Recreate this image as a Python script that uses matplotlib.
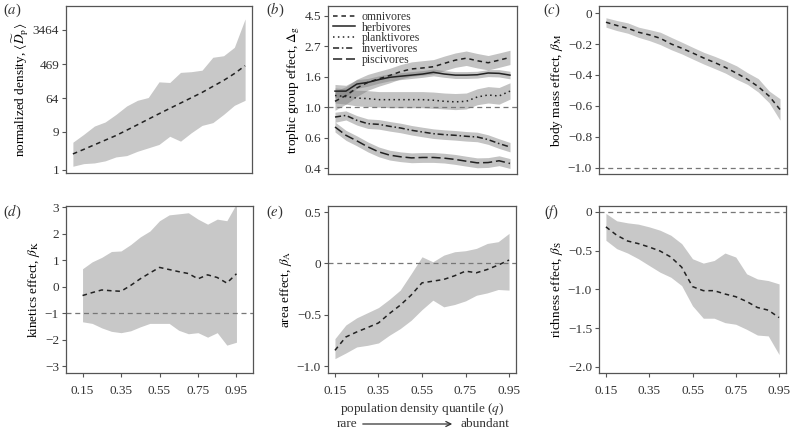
import matplotlib
matplotlib.use("Agg")
import matplotlib.pyplot as plt
import numpy as np

plt.rcParams['font.family'] = ['Liberation Serif', 'DejaVu Serif']
plt.rcParams['mathtext.fontset'] = 'stix'
plt.rcParams['font.size'] = 9.5
plt.rcParams['text.color'] = '#333333'
plt.rcParams['axes.edgecolor'] = '#555555'
plt.rcParams['xtick.color'] = '#555555'
plt.rcParams['ytick.color'] = '#555555'
plt.rcParams['xtick.labelcolor'] = '#333333'
plt.rcParams['ytick.labelcolor'] = '#333333'

# population density quantiles
q = [0.15, 0.20, 0.25, 0.30, 0.35, 0.40, 0.45, 0.50, 0.55,
     0.60, 0.65, 0.70, 0.75, 0.80, 0.85, 0.90, 0.95]

# (a) normalized density
dens_mean = [2.5, 3.25, 4.26, 5.58, 7.3, 9.97, 13.7, 18.9, 26, 35.5, 48.4, 66, 90, 128, 181, 270, 428]
dens_lo = [1.22, 1.42, 1.48, 1.67, 2.1, 2.27, 2.92, 3.56, 4.35, 7.0, 5.26, 8.6, 13.2, 15.5, 25, 42.5, 57]
dens_hi = [4.95, 7.8, 12.7, 16.1, 25, 41, 57, 67, 167, 161, 290, 302, 330, 700, 765, 1250, 6560]

# (b) trophic group effects
omni = [1.10, 1.21, 1.37, 1.50, 1.59, 1.68, 1.79, 1.87, 1.90, 1.94, 2.05, 2.16, 2.23, 2.14, 2.07, 2.16, 2.26]
omni_lo = [0.95, 1.05, 1.19, 1.32, 1.41, 1.49, 1.59, 1.66, 1.69, 1.72, 1.82, 1.92, 1.98, 1.90, 1.84, 1.92, 2.01]
omni_hi = [1.30, 1.40, 1.58, 1.71, 1.80, 1.89, 2.01, 2.10, 2.14, 2.18, 2.31, 2.43, 2.51, 2.41, 2.33, 2.43, 2.54]
herb = [1.30, 1.30, 1.46, 1.50, 1.57, 1.63, 1.66, 1.69, 1.72, 1.77, 1.72, 1.69, 1.69, 1.70, 1.75, 1.74, 1.69]
herb_lo = [1.17, 1.19, 1.36, 1.41, 1.48, 1.54, 1.57, 1.60, 1.63, 1.67, 1.63, 1.60, 1.60, 1.61, 1.65, 1.64, 1.59]
herb_hi = [1.45, 1.43, 1.57, 1.60, 1.67, 1.73, 1.76, 1.79, 1.82, 1.87, 1.82, 1.79, 1.79, 1.80, 1.85, 1.85, 1.80]
plank = [1.21, 1.19, 1.16, 1.15, 1.13, 1.13, 1.13, 1.13, 1.13, 1.12, 1.10, 1.09, 1.10, 1.18, 1.22, 1.20, 1.30]
plank_lo = [1.07, 1.05, 1.02, 1.01, 1.00, 0.99, 0.99, 0.99, 0.99, 0.98, 0.97, 0.96, 0.97, 1.04, 1.07, 1.05, 1.14]
plank_hi = [1.37, 1.35, 1.32, 1.31, 1.29, 1.29, 1.29, 1.29, 1.29, 1.28, 1.26, 1.25, 1.26, 1.35, 1.40, 1.38, 1.49]
invert = [0.85, 0.873, 0.805, 0.762, 0.754, 0.73, 0.71, 0.684, 0.665, 0.647, 0.637, 0.63, 0.62, 0.613, 0.587, 0.55, 0.52]
invert_lo = [0.78, 0.81, 0.745, 0.705, 0.697, 0.675, 0.657, 0.633, 0.615, 0.598, 0.589, 0.582, 0.573, 0.567, 0.543, 0.508, 0.48]
invert_hi = [0.92, 0.94, 0.870, 0.824, 0.815, 0.790, 0.768, 0.740, 0.719, 0.700, 0.689, 0.681, 0.670, 0.663, 0.635, 0.595, 0.56]
pisc = [0.722, 0.63, 0.575, 0.521, 0.48, 0.455, 0.443, 0.435, 0.438, 0.438, 0.433, 0.424, 0.412, 0.401, 0.403, 0.415, 0.397]
pisc_lo = [0.665, 0.58, 0.530, 0.480, 0.443, 0.420, 0.409, 0.402, 0.404, 0.404, 0.400, 0.391, 0.380, 0.370, 0.372, 0.383, 0.366]
pisc_hi = [0.783, 0.683, 0.624, 0.565, 0.520, 0.493, 0.480, 0.472, 0.475, 0.475, 0.469, 0.460, 0.447, 0.435, 0.437, 0.450, 0.430]

# (c) body mass effect
mass_mean = [-0.059, -0.080, -0.098, -0.124, -0.141, -0.163, -0.2, -0.228, -0.259, -0.291, -0.32, -0.352, -0.389, -0.428, -0.476, -0.537, -0.624]
mass_lo = [-0.091, -0.113, -0.130, -0.157, -0.178, -0.204, -0.237, -0.265, -0.298, -0.330, -0.359, -0.389, -0.428, -0.461, -0.511, -0.580, -0.693]
mass_hi = [-0.030, -0.048, -0.063, -0.091, -0.107, -0.124, -0.157, -0.189, -0.222, -0.254, -0.280, -0.309, -0.341, -0.385, -0.424, -0.504, -0.554]

# (d) kinetics effect
kin_mean = [-0.33, -0.22, -0.12, -0.15, -0.17, 0.05, 0.30, 0.52, 0.73, 0.65, 0.57, 0.50, 0.30, 0.45, 0.35, 0.14, 0.49]
kin_lo = [-1.32, -1.38, -1.55, -1.68, -1.73, -1.66, -1.51, -1.38, -1.38, -1.38, -1.64, -1.77, -1.73, -1.90, -1.73, -2.20, -2.09]
kin_hi = [0.68, 0.94, 1.11, 1.33, 1.35, 1.59, 1.88, 2.10, 2.49, 2.71, 2.75, 2.79, 2.55, 2.36, 2.55, 2.49, 3.13]

# (e) area effect
area_mean = [-0.847, -0.717, -0.668, -0.625, -0.58, -0.489, -0.407, -0.309, -0.189, -0.173, -0.156, -0.12, -0.075, -0.091, -0.059, -0.016, 0.033]
area_lo = [-0.928, -0.873, -0.814, -0.798, -0.775, -0.70, -0.635, -0.554, -0.45, -0.358, -0.423, -0.40, -0.365, -0.31, -0.287, -0.254, -0.26]
area_hi = [-0.733, -0.60, -0.53, -0.48, -0.43, -0.35, -0.26, -0.10, 0.065, 0.016, 0.081, 0.114, 0.124, 0.147, 0.195, 0.212, 0.293]

# (f) richness effect
rich_mean = [-0.195, -0.303, -0.377, -0.411, -0.455, -0.506, -0.584, -0.714, -0.965, -1.017, -1.017, -1.06, -1.095, -1.156, -1.234, -1.268, -1.364]
rich_lo = [-0.368, -0.476, -0.532, -0.606, -0.693, -0.779, -0.844, -0.952, -1.212, -1.372, -1.372, -1.429, -1.45, -1.515, -1.589, -1.60, -1.84]
rich_hi = [-0.022, -0.117, -0.143, -0.16, -0.195, -0.238, -0.303, -0.411, -0.606, -0.662, -0.628, -0.532, -0.584, -0.80, -0.866, -0.887, -0.93]

x_ticks = [0.15, 0.35, 0.55, 0.75, 0.95]
band = '#c8c8c8'
ink = '#222222'

W, H = 791, 432
fig = plt.figure(figsize=(7.91, 4.32), dpi=100)


def make_ax(x0, x1, y0, y1):
    return fig.add_axes([x0 / W, 1 - y1 / H, (x1 - x0) / W, (y1 - y0) / H])


def style(ax, bottom_row):
    ax.tick_params(direction='out', length=3, width=0.8, pad=2)
    ax.tick_params(axis='x', pad=6)
    for s in ax.spines.values():
        s.set_linewidth(0.9)
    if bottom_row:
        ax.set_xticks(x_ticks)
        ax.set_xticklabels(['0.15', '0.35', '0.55', '0.75', '0.95'])
    else:
        ax.set_xticks([])


def mean_band(ax, lo, hi, mean):
    ax.fill_between(q, lo, hi, color=band, lw=0)
    ax.plot(q, mean, color=ink, lw=1.1, dashes=(3, 2.5))


def ref_line(ax, y):
    ax.axhline(y, color='#777777', lw=0.9, dashes=(4, 3))


ax_a = make_ax(66, 252, 6, 173)
ax_b = make_ax(328, 517, 6, 174)
ax_c = make_ax(599, 787, 6, 174)
ax_d = make_ax(66, 253, 206, 373)
ax_e = make_ax(328, 516, 206, 373)
ax_f = make_ax(599, 786, 206, 373)

# (a)
mean_band(ax_a, dens_lo, dens_hi, dens_mean)
ax_a.set_yscale('log')
ax_a.set_ylim(0.823, 13900)
ax_a.set_yticks([1, 9, 64, 469, 3464])
ax_a.set_yticklabels(['1', '9', '64', '469', '3464'])
ax_a.minorticks_off()
ax_a.set_ylabel(r'normalized density, $\langle\widetilde{D}_{\rm p}\rangle$', labelpad=2)

# (b)
groups = [('omnivores', omni, omni_lo, omni_hi, (3, 2.5)),
          ('herbivores', herb, herb_lo, herb_hi, None),
          ('planktivores', plank, plank_lo, plank_hi, (1, 2.2)),
          ('invertivores', invert, invert_lo, invert_hi, (4, 1.8, 1, 1.8)),
          ('piscivores', pisc, pisc_lo, pisc_hi, (6, 2.5))]
for name, m, lo, hi, d in groups:
    ax_b.fill_between(q, lo, hi, color='#7a7a7a', alpha=0.45, lw=0)
for name, m, lo, hi, d in groups:
    if d is None:
        ax_b.plot(q, m, color=ink, lw=1.1, label=name)
    else:
        ax_b.plot(q, m, color=ink, lw=1.1, dashes=d, label=name)
ref_line(ax_b, 1.0)
ax_b.set_yscale('log')
ax_b.set_ylim(0.334, 5.25)
ax_b.set_yticks([np.exp(-1), np.exp(-0.5), 1.0, np.exp(0.5), np.exp(1), np.exp(1.5)])
ax_b.set_yticklabels(['0.4', '0.6', '1.0', '1.6', '2.7', '4.5'])
ax_b.minorticks_off()
ax_b.set_ylabel(r'trophic group effect, $\Delta_{\rm g}$', labelpad=2)
ax_b.legend(loc='upper left', frameon=False, fontsize=8.5, handlelength=1.9,
            labelspacing=-0.1, borderaxespad=0.25, handletextpad=0.55,
            borderpad=0.15)

# (c)
mean_band(ax_c, mass_lo, mass_hi, mass_mean)
ref_line(ax_c, -1.0)
ax_c.set_ylim(-1.041, 0.046)
ax_c.set_yticks([0, -0.2, -0.4, -0.6, -0.8, -1.0])
ax_c.set_yticklabels(['0', '\u22120.2', '\u22120.4', '\u22120.6', '\u22120.8', '\u22121.0'])
ax_c.set_ylabel(r'body mass effect, $\beta_{\rm M}$', labelpad=2)

# (d)
mean_band(ax_d, kin_lo, kin_hi, kin_mean)
ref_line(ax_d, -1.0)
ax_d.set_ylim(-3.25, 3.045)
ax_d.set_yticks([3, 2, 1, 0, -1, -2, -3])
ax_d.set_yticklabels(['3', '2', '1', '0', '\u22121', '\u22122', '\u22123'])
ax_d.set_ylabel(r'kinetics effect, $\beta_{\rm K}$', labelpad=2)

# (e)
mean_band(ax_e, area_lo, area_hi, area_mean)
ref_line(ax_e, 0.0)
ax_e.set_ylim(-1.068, 0.56)
ax_e.set_yticks([0.5, 0, -0.5, -1.0])
ax_e.set_yticklabels(['0.5', '0', '\u22120.5', '\u22121.0'])
ax_e.set_ylabel(r'area effect, $\beta_{\rm A}$', labelpad=2)

# (f)
mean_band(ax_f, rich_lo, rich_hi, rich_mean)
ref_line(ax_f, 0.0)
ax_f.set_ylim(-2.078, 0.074)
ax_f.set_yticks([0, -0.5, -1.0, -1.5, -2.0])
ax_f.set_yticklabels(['0', '\u22120.5', '\u22121.0', '\u22121.5', '\u22122.0'])
ax_f.set_ylabel(r'richness effect, $\beta_{\rm S}$', labelpad=2)

for ax in [ax_a, ax_b, ax_c, ax_e, ax_f]:
    ax.set_xlim(0.118, 0.982)
ax_d.set_xlim(0.064, 1.036)

for ax in [ax_a, ax_b, ax_c]:
    style(ax, False)
for ax in [ax_d, ax_e, ax_f]:
    style(ax, True)

# panel letters
for lbl, (px, py) in zip('abcdef', [(12, 10), (275, 10), (552, 10),
                                    (12, 212), (275, 212), (552, 212)]):
    fig.text(px / W, 1 - py / H, '($%s$)' % lbl, fontsize=10.5, ha='center', va='center')

fig.text(422 / W, 1 - 409 / H, r'population density quantile ($q$)', ha='center', va='center')
fig.text(347 / W, 1 - 424 / H, 'rare', ha='center', va='center')
fig.text(485 / W, 1 - 424 / H, 'abundant', ha='center', va='center')
fig.add_artist(matplotlib.patches.FancyArrowPatch(
    (360 / W, 1 - 424 / H), (455 / W, 1 - 424 / H), transform=fig.transFigure,
    arrowstyle='->', mutation_scale=9, color='#333333', lw=0.9))

fig.savefig('out.png', dpi=100)
